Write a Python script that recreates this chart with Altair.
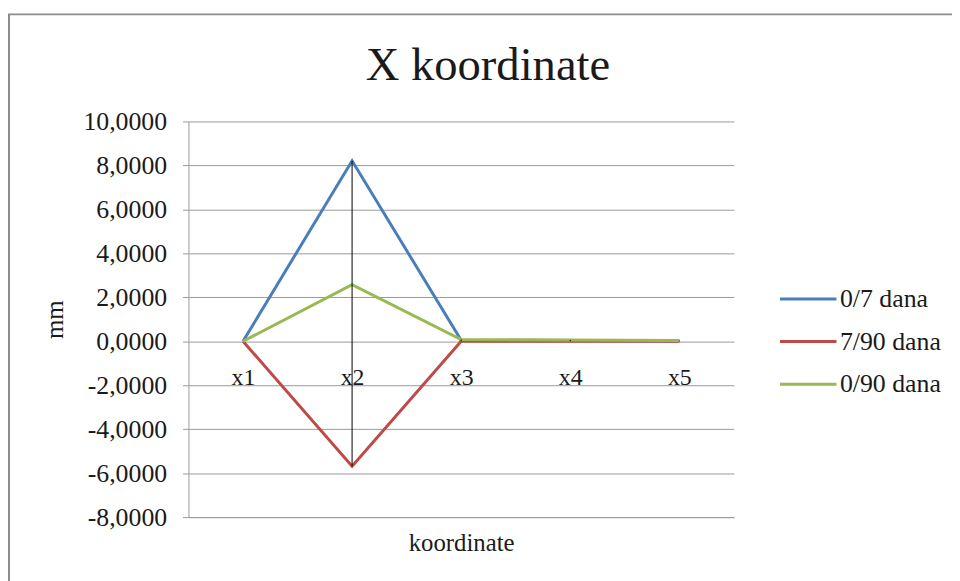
import altair as alt
import pandas as pd

categories = ["x1", "x2", "x3", "x4", "x5"]
series_names = ["0/7 dana", "7/90 dana", "0/90 dana"]
s_0_7 = [0.0, 8.21, 0.05, 0.03, 0.02]
s_7_90 = [0.0, -5.68, 0.0, 0.0, 0.0]
s_0_90 = [0.0, 2.57, 0.08, 0.06, 0.03]
colors = ["#4A7EBB", "#BE4B48", "#98B954"]

rows = []
for name, vals in zip(series_names, [s_0_7, s_7_90, s_0_90]):
    for c, v in zip(categories, vals):
        rows.append({"kat": c, "serija": name, "mm": v, "ord": series_names.index(name)})
df = pd.DataFrame(rows)

FONT = "'Liberation Serif', 'Times New Roman', 'DejaVu Serif', serif"
GRID = "#9A9A9A"
TXT = "#1a1a1a"

xenc = alt.X("kat:N", sort=categories, scale=alt.Scale(type="point", padding=0.5),
             axis=alt.Axis(title="koordinate", labelAngle=0, ticks=False, tickSize=0,
                           labelPadding=-134, labelBaseline="alphabetic",
                           labelFont=FONT, titleFont=FONT,
                           labelFontSize=24, titleFontSize=25,
                           domainColor=GRID, titleY=14, grid=False))
yenc = alt.Y("mm:Q", scale=alt.Scale(domain=[-8, 10], nice=False),
             axis=alt.Axis(title="mm", values=list(range(-8, 11, 2)), tickSize=6,
                           tickColor=GRID, domainColor=GRID, gridColor=GRID,
                           labelFont=FONT, titleFont=FONT,
                           labelFontSize=26, titleFontSize=25,
                           labelPadding=16, titleX=-122,
                           labelExpr="replace(replace(format(datum.value, '.4f'), '.', ','), '\u2212', '-')"))

lines = alt.Chart(df).mark_line(strokeWidth=3).encode(
    x=xenc,
    y=yenc,
    color=alt.Color("serija:N", sort=series_names,
                    scale=alt.Scale(domain=series_names, range=colors),
                    legend=alt.Legend(title=None, orient="none", legendX=595, legendY=149,
                                      symbolType="stroke", symbolSize=3249,
                                      symbolStrokeWidth=3, labelOffset=2, rowPadding=-9,
                                      labelFont=FONT, labelFontSize=26, labelColor=TXT)),
    order="ord:Q",
)

hilo = alt.Chart(df).transform_aggregate(
    hi="max(mm)", lo="min(mm)", groupby=["kat"]
).mark_rule(color="black", strokeWidth=1).encode(
    x=alt.X("kat:N", sort=categories),
    y="hi:Q",
    y2="lo:Q",
)

border = alt.Chart(pd.DataFrame({"a": [0]})).mark_rect(
    fill=None, stroke="#8C8C8C", strokeWidth=2
).encode(
    x=alt.value(-181), x2=alt.value(900), y=alt.value(-108), y2=alt.value(700)
)

chart = alt.layer(lines, hilo, border).properties(
    width=550, height=399,
    autosize=alt.AutoSizeParams(type="none"),
    padding={"left": 182, "top": 112, "right": 220, "bottom": 62},
    title=alt.Title("X koordinate", fontSize=47, font=FONT, fontWeight="normal",
                    color=TXT, anchor="middle", dx=27, offset=-114, baseline="alphabetic"),
).configure_axis(
    labelColor=TXT, titleColor=TXT, titleFontWeight="normal",
).configure_view(stroke=None)

chart.save("out.html", embed_options={"renderer": "svg", "actions": False})
